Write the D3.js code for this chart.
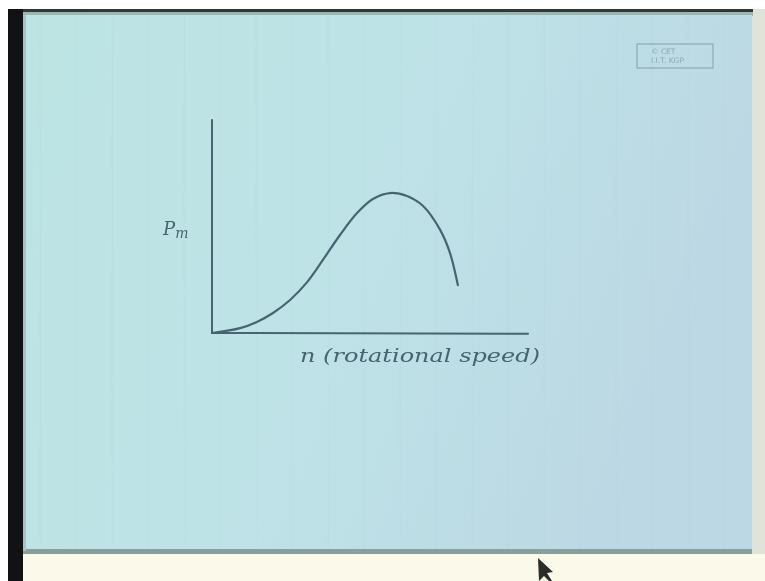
<!DOCTYPE html>
<html>
<head>
<meta charset="utf-8">
<script src="https://cdn.jsdelivr.net/npm/d3@7/dist/d3.min.js"></script>
<style>
  html, body { margin: 0; padding: 0; background: #ffffff; }
  svg { display: block; }
</style>
</head>
<body>
<svg id="chart" width="765" height="581"></svg>
<script>
// Mechanical power Pm versus rotational speed n (sketched characteristic)
const speedValues = [0, 8.9, 14.2, 19.3, 24.7, 30.1, 35.1, 40.5, 45.9, 50.9, 56.3, 61.7, 66.8, 72.2, 75.3, 77.8];
const powerValues = [0, 2.3, 5.2, 9.4, 15.5, 23.9, 34.3, 46.0, 56.3, 62.9, 65.7, 64.3, 59.6, 48.4, 37.6, 22.5];
const xLabel = "n (rotational speed)";
const yLabelMain = "P";
const yLabelSub = "m";
const stampLines = ["© CET", "I.I.T. KGP"];

const svg = d3.select("#chart");
const W = 765, H = 581;
const ink = "#46656f";

const defs = svg.append("defs");
const paperGrad = defs.append("linearGradient").attr("id", "paper")
  .attr("x1", "0").attr("y1", "0").attr("x2", "1").attr("y2", "0.3");
paperGrad.append("stop").attr("offset", "0").attr("stop-color", "#bde4e3");
paperGrad.append("stop").attr("offset", "0.5").attr("stop-color", "#bee3e7");
paperGrad.append("stop").attr("offset", "1").attr("stop-color", "#bcd8e4");
const soft = defs.append("filter").attr("id", "soft");
soft.append("feGaussianBlur").attr("stdDeviation", 0.55);

// surroundings: desk, dark edge, paper sheet
svg.append("rect").attr("x", 0).attr("y", 0).attr("width", W).attr("height", H).attr("fill", "#fbf9ea");
svg.append("rect").attr("x", 0).attr("y", 0).attr("width", W).attr("height", 9).attr("fill", "#ffffff");
svg.append("rect").attr("x", 0).attr("y", 0).attr("width", 8).attr("height", H).attr("fill", "#ffffff");
svg.append("rect").attr("x", 752).attr("y", 9).attr("width", 13).attr("height", 545).attr("fill", "#dfe3da");
svg.append("rect").attr("x", 8).attr("y", 9).attr("width", 745).attr("height", 4).attr("fill", "#2e3a38");
svg.append("rect").attr("x", 22).attr("y", 12).attr("width", 731).attr("height", 4).attr("fill", "#9fb5b2");
svg.append("rect").attr("x", 22).attr("y", 15).attr("width", 730).attr("height", 536).attr("fill", "url(#paper)");
svg.append("rect").attr("x", 22).attr("y", 549).attr("width", 730).attr("height", 5).attr("fill", "#8c9e9b");
svg.append("rect").attr("x", 22).attr("y", 15).attr("width", 4).attr("height", 536).attr("fill", "#a9c3c4");
svg.append("rect").attr("x", 8).attr("y", 9).attr("width", 15).attr("height", H - 9).attr("fill", "#121214");

// faint ruling of the sheet
const ruleG = svg.append("g").attr("opacity", 0.12);
d3.range(40, 752, 36).forEach(x => {
  ruleG.append("line").attr("x1", x).attr("x2", x).attr("y1", 16).attr("y2", 549)
    .attr("stroke", "#9bc4cc").attr("stroke-width", 1);
});

// logo stamp
const stamp = svg.append("g").attr("filter", "url(#soft)");
stamp.append("rect").attr("x", 637).attr("y", 44).attr("width", 76).attr("height", 24)
  .attr("fill", "none").attr("stroke", "#8ea9b2").attr("stroke-width", 1.2);
stamp.selectAll("text").data(stampLines).join("text")
  .attr("x", 651).attr("y", (d, i) => 54 + i * 9)
  .attr("font-family", "DejaVu Sans").attr("font-size", 7.5)
  .attr("fill", "#8ea9b2").text(d => d);

// scales
const x = d3.scaleLinear().domain([0, 100]).range([212, 528]);
const y = d3.scaleLinear().domain([0, 100]).range([333, 120]);

const g = svg.append("g").attr("filter", "url(#soft)");

// axes
g.append("line").attr("x1", x(0)).attr("y1", y(100)).attr("x2", x(0)).attr("y2", y(0))
  .attr("stroke", ink).attr("stroke-width", 2).attr("stroke-linecap", "round");
g.append("line").attr("x1", x(0)).attr("y1", y(0)).attr("x2", x(100)).attr("y2", y(0) + 0.8)
  .attr("stroke", ink).attr("stroke-width", 2).attr("stroke-linecap", "round");

// power curve
const pts = speedValues.map((v, i) => [v, powerValues[i]]);
const line = d3.line().x(d => x(d[0])).y(d => y(d[1])).curve(d3.curveCatmullRom.alpha(0.5));
g.append("path").datum(pts).attr("d", line)
  .attr("fill", "none").attr("stroke", ink).attr("stroke-width", 2.2)
  .attr("stroke-linecap", "round");

// labels
const yl = g.append("text").attr("x", 163).attr("y", 235)
  .attr("font-family", "DejaVu Serif").attr("font-style", "italic")
  .attr("font-size", 18).attr("fill", ink);
yl.append("tspan").text(yLabelMain);
yl.append("tspan").attr("font-size", 14).attr("dy", 3).text(yLabelSub);

g.append("text").attr("x", 300).attr("y", 362)
  .attr("font-family", "DejaVu Serif").attr("font-style", "italic")
  .attr("font-size", 19).attr("fill", ink)
  .attr("textLength", 240).attr("lengthAdjust", "spacingAndGlyphs")
  .text(xLabel);

// pointer arrow at the bottom edge
svg.append("path")
  .attr("d", "M538,558 L539,581 L544,576 L549,581 L552,581 L547,573 L553,572 Z")
  .attr("fill", "#2b2d2c").attr("filter", "url(#soft)");
</script>
</body>
</html>
